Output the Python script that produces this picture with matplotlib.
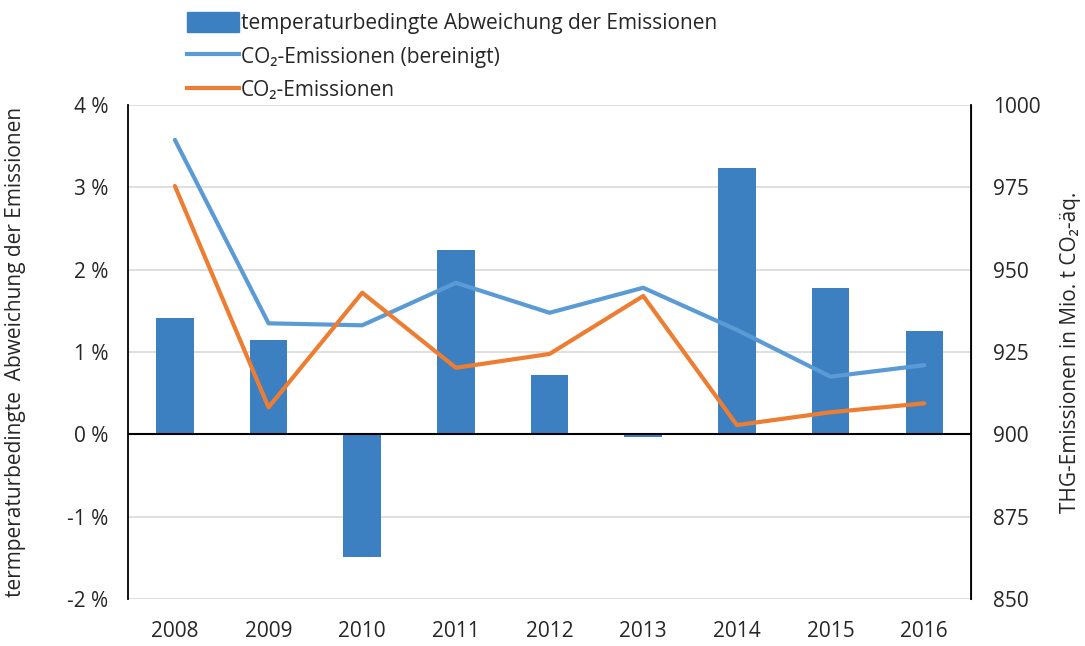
import numpy as np
import matplotlib
matplotlib.use("Agg")
import matplotlib.pyplot as plt
from matplotlib.patches import Patch
from matplotlib.lines import Line2D

plt.rcParams['font.family'] = ['Open Sans', 'DejaVu Sans']

years = ["2008", "2009", "2010", "2011", "2012", "2013", "2014", "2015", "2016"]
abweichung = [1.41, 1.14, -1.49, 2.24, 0.72, -0.03, 3.24, 1.78, 1.26]
co2_bereinigt = [989.4, 933.7, 933.1, 946.0, 936.9, 944.5, 931.7, 917.5, 921.0]
co2 = [975.4, 908.2, 943.0, 920.2, 924.4, 942.0, 902.8, 906.7, 909.4]

bar_color = '#3c80c2'
blue = '#5b9bd5'
orange = '#ed7d31'
txt = '#262626'

fig = plt.figure(figsize=(10.85, 6.46), dpi=100)
ax = fig.add_axes([0.118, 0.0728, 0.777, 0.7647])
x = np.arange(len(years))

ax.bar(x, abweichung, width=0.4, color=bar_color, zorder=2)
ax.axhline(0, color='black', lw=1.5, zorder=3)
ax.set_xlim(-0.5, len(years) - 0.5)
ax.set_ylim(-2, 4)
ax.set_yticks(range(-2, 5))
ax.set_yticklabels([f"{v} %" for v in range(-2, 5)])
ax.set_xticks(x)
ax.set_xticklabels(years)
ax.grid(axis='y', color='#d9d9d9', lw=1.2, zorder=0)
ax.set_axisbelow(True)
ax.tick_params(length=0, labelsize=15, colors=txt, pad=14)
ax.tick_params(axis='x', pad=16)
for s in ['top', 'bottom']:
    ax.spines[s].set_visible(False)
ax.spines['left'].set_color('black')
ax.spines['left'].set_linewidth(1.3)
ax.set_ylabel("termperaturbedingte  Abweichung der Emissionen", fontsize=15, color=txt, labelpad=30)

ax2 = ax.twinx()
ax2.plot(x, co2_bereinigt, color=blue, lw=3, solid_capstyle='round', zorder=4)
ax2.plot(x, co2, color=orange, lw=3, solid_capstyle='round', zorder=5)
ax2.set_ylim(850, 1000)
ax2.set_yticks(range(850, 1001, 25))
ax2.tick_params(length=0, labelsize=15, colors=txt, pad=16)
for s in ['top', 'bottom', 'left']:
    ax2.spines[s].set_visible(False)
ax2.spines['right'].set_color('black')
ax2.spines['right'].set_linewidth(1.3)
ax2.set_ylabel("THG-Emissionen in Mio. t CO₂-äq.", fontsize=15, color=txt, labelpad=14)

handles = [
    Patch(facecolor=bar_color, edgecolor=bar_color),
    Line2D([], [], color=blue, lw=3),
    Line2D([], [], color=orange, lw=3),
]
labels = [
    "temperaturbedingte Abweichung der Emissionen",
    "CO₂-Emissionen (bereinigt)",
    "CO₂-Emissionen",
]
fig.legend(handles, labels, loc='upper left', bbox_to_anchor=(0.155, 1.01),
           frameon=False, fontsize=15, handlelength=2.5, handleheight=1.1,
           handletextpad=0.1, labelspacing=0.55, labelcolor=txt)

fig.savefig("out.png", dpi=100)
